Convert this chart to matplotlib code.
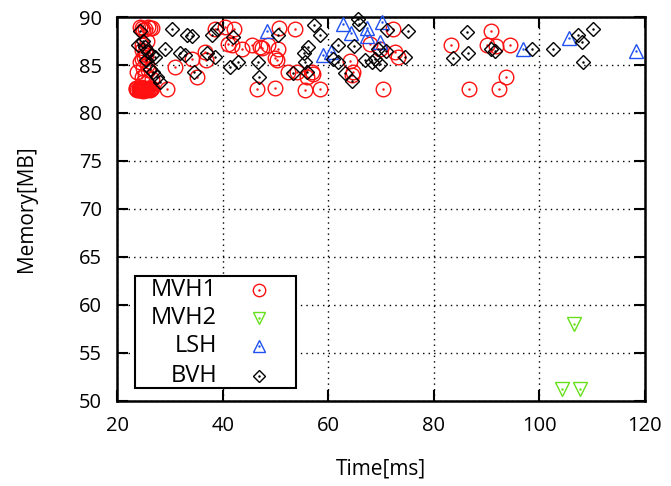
import matplotlib
matplotlib.use('Agg')
import matplotlib.pyplot as plt
from matplotlib.patches import Rectangle
from matplotlib.lines import Line2D

plt.rcParams['font.family'] = ['Open Sans', 'DejaVu Sans']

# MVH1 (red circles)
mvh1_x = [23.5, 24.0, 24.3, 24.6, 25.0, 25.3, 25.6, 26.0, 26.3, 24.2, 25.5, 23.8,
          23.6, 24.1, 24.4, 24.8, 25.1, 25.4, 25.8, 26.2, 26.5, 24.9, 25.7, 24.5,
          24.3, 25.8, 26.5, 24.8, 26.1, 25.3, 24.6,
          24.6, 24.6, 25.2, 24.3, 25.6, 25.8, 24.6, 26.5, 23.7, 24.8,
          25.0, 25.4, 24.9, 25.2, 25.6, 24.7,
          29.4, 30.9, 34.1, 35.1, 36.6, 36.8,
          38.5, 40.4, 42.1, 41.0, 41.7, 43.6, 45.5, 47.4, 48.5, 50.4, 49.8, 50.2,
          50.6, 53.6, 46.4, 49.8, 52.3, 54.0, 55.5, 55.9, 56.9, 57.1, 58.5, 47.0,
          64.1, 64.7, 64.4, 67.9, 69.8, 72.2, 72.6, 73.2, 70.3,
          83.3, 86.7, 90.8, 90.1, 91.8, 94.4, 93.6, 92.3]
mvh1_y = [82.5, 82.5, 82.5, 82.5, 82.5, 82.5, 82.5, 82.5, 82.5, 82.6, 82.4, 82.4,
          82.6, 82.4, 82.7, 82.3, 82.6, 82.4, 82.6, 82.4, 82.6, 82.5, 82.5, 82.4,
          89.0, 89.0, 88.9, 88.6, 88.9, 88.8, 88.9,
          87.1, 86.6, 86.4, 85.3, 85.0, 84.5, 83.8, 83.5, 84.3, 84.7,
          85.8, 86.0, 83.2, 84.0, 87.5, 85.6,
          82.5, 84.8, 85.6, 83.8, 86.4, 85.5,
          88.7, 89.0, 88.7, 87.2, 87.1, 86.7, 87.1, 86.8, 87.1, 86.7, 85.7, 85.5,
          88.9, 88.8, 82.5, 82.6, 84.3, 84.3, 82.4, 83.7, 84.3, 84.1, 82.5, 86.9,
          85.4, 84.3, 84.0, 87.2, 86.7, 88.7, 86.4, 85.8, 82.5,
          87.1, 82.5, 88.5, 87.1, 87.0, 87.1, 83.8, 82.5]

# MVH2 (green triangles down)
mvh2_x = [104.3, 107.7, 106.6]
mvh2_y = [51.2, 51.2, 58.0]

# LSH (blue triangles up)
lsh_x = [48.3, 59.0, 60.5, 62.7, 64.2, 67.3, 67.3, 70.2, 69.8, 96.9, 105.6, 118.3]
lsh_y = [88.5, 86.0, 86.4, 89.3, 88.3, 88.9, 88.0, 89.5, 87.4, 86.7, 87.8, 86.5]

# BVH (black diamonds)
bvh_x = [24.3, 23.9, 25.2, 25.8, 27.1, 26.5, 26.2, 26.7, 27.5, 28.1, 25.5, 24.8,
         29.0, 30.3, 31.9, 33.1, 34.1, 37.9, 38.8, 41.9, 37.0, 38.5, 32.8, 34.5,
         41.3, 42.8, 46.6, 46.8, 50.4, 57.2, 58.4, 56.1, 55.4, 55.5, 53.3, 55.9,
         65.6, 65.8, 75.1, 71.1, 61.8, 64.8, 69.4, 70.9, 60.9, 61.8, 66.9, 68.3,
         68.8, 69.8, 63.2, 64.4, 74.5,
         86.3, 83.6, 86.5, 90.8, 91.6, 98.6, 102.6, 107.3, 108.0, 110.1, 108.3]
bvh_y = [88.5, 87.1, 86.9, 86.4, 85.8, 86.0, 84.6, 84.3, 83.7, 83.2, 85.5, 87.5,
         86.7, 88.7, 86.3, 88.1, 88.0, 88.1, 88.8, 87.9, 86.2, 85.8, 86.0, 84.3,
         84.8, 85.3, 85.3, 83.7, 88.1, 89.2, 88.1, 86.9, 86.3, 85.3, 84.2, 84.3,
         89.8, 89.3, 88.5, 88.6, 87.1, 87.0, 86.7, 86.5, 85.6, 85.3, 85.5, 85.3,
         85.6, 85.1, 84.2, 83.3, 85.8,
         88.4, 85.7, 86.2, 86.7, 86.5, 86.7, 86.7, 88.1, 87.4, 88.8, 85.3]

xticks = [20, 40, 60, 80, 100, 120]
yticks = [50, 55, 60, 65, 70, 75, 80, 85, 90]

series = [
    ('MVH1', mvh1_x, mvh1_y, 'o', '#ff1010', 10.5),
    ('MVH2', mvh2_x, mvh2_y, 'v', '#66e01a', 9.5),
    ('LSH', lsh_x, lsh_y, '^', '#2050f0', 9.5),
    ('BVH', bvh_x, bvh_y, 'D', '#000000', 7.5),
]

fig = plt.figure(figsize=(6.71, 4.86), dpi=100)
ax = fig.add_axes([0.175, 0.175, 0.786, 0.79])

for name, xs, ys, mk, col, ms in series:
    ax.plot(xs, ys, linestyle='none', marker=mk, ms=ms, mfc='none', mec=col,
            mew=1.0, clip_on=False, zorder=3)
    ax.plot(xs, ys, linestyle='none', marker='.', ms=1.5, color=col,
            clip_on=False, zorder=3)

ax.set_xlim(20, 120)
ax.set_ylim(50, 90)
ax.set_xticks(xticks)
ax.set_yticks(yticks)
ax.tick_params(direction='in', length=8, width=1.5, labelsize=14.5,
               top=True, right=True)
ax.tick_params(axis='x', pad=11)
ax.tick_params(axis='y', pad=11)
for sp in ax.spines.values():
    sp.set_linewidth(1.8)
ax.grid(True, color='black', linestyle=(0, (1, 3)), linewidth=1.0)
ax.set_axisbelow(True)

ax.set_xlabel('Time[ms]', fontsize=15, labelpad=16)
ax.set_ylabel('Memory[MB]', fontsize=15, labelpad=30)

# legend drawn gnuplot-style: right aligned text, marker on the right
ax.add_patch(Rectangle((0.033, 0.034), 0.305, 0.292, transform=ax.transAxes,
                       facecolor='white', edgecolor='black', linewidth=1.5,
                       zorder=5))
row_y = [0.289, 0.216, 0.143, 0.065]
for (name, xs, ys, mk, col, ms), ry in zip(series, row_y):
    ax.text(0.189, ry, name, transform=ax.transAxes, ha='right', va='center',
            fontsize=17, zorder=6)
    ax.add_line(Line2D([0.268], [ry], transform=ax.transAxes, marker=mk,
                       ms=ms * 0.85, mfc='none', mec=col, mew=1.0, zorder=6))
    ax.add_line(Line2D([0.268], [ry], transform=ax.transAxes, marker='.',
                       ms=1.5, color=col, zorder=6))

fig.savefig('out.png', dpi=100)
